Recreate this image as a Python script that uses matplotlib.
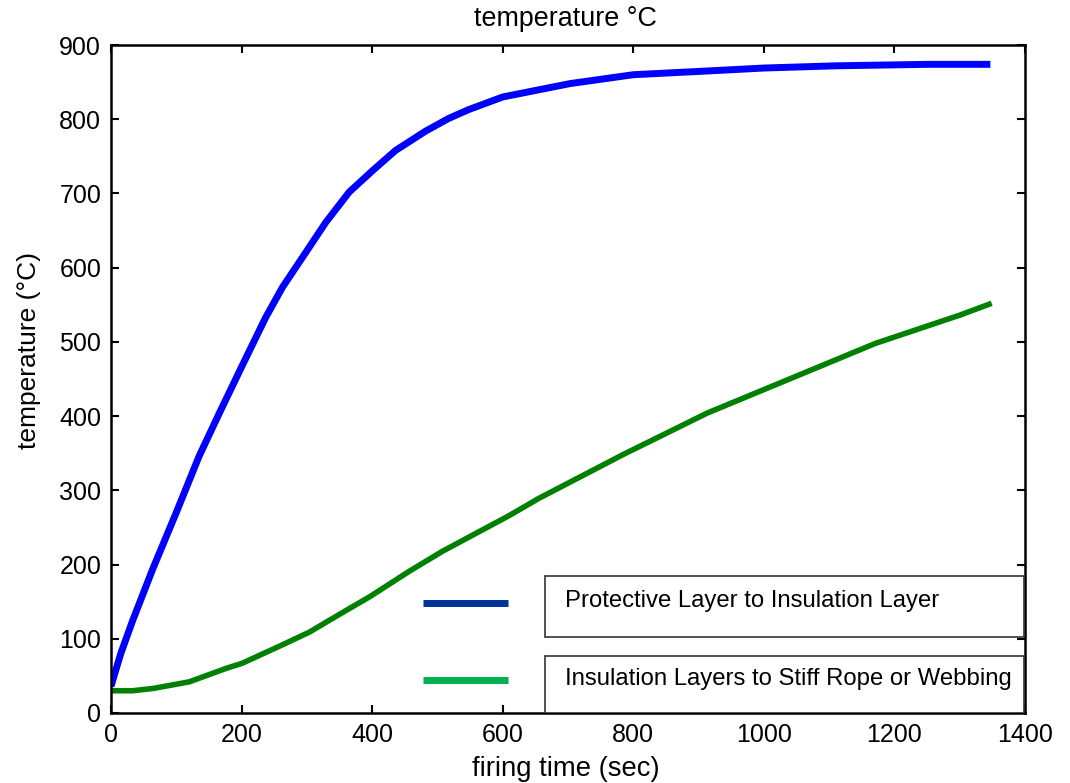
import matplotlib
matplotlib.use('Agg')
import matplotlib.pyplot as plt
from matplotlib.patches import Rectangle
from matplotlib.lines import Line2D

plt.rcParams['font.family'] = ['Liberation Sans', 'DejaVu Sans']

# firing time (sec) vs temperature (C)
blue_t = [0, 15, 33, 64, 100, 135, 166, 201, 237, 263, 298, 329, 365, 401, 436,
          482, 517, 548, 600, 703, 800, 913, 1000, 1111, 1252, 1347]
blue_T = [36, 80, 124, 194, 270, 346, 404, 468, 533, 574, 620, 661, 702, 731, 758,
          784, 801, 813, 830, 848, 860, 865, 869, 872, 874, 874]

green_t = [0, 33, 64, 120, 176, 201, 263, 304, 354, 397, 457, 508, 559, 610, 655,
           784, 913, 1042, 1171, 1300, 1349]
green_T = [30, 30, 33, 42, 60, 67, 92, 109, 135, 157, 191, 218, 242, 266, 289,
           348, 404, 451, 498, 536, 552]

labels = ['Protective Layer to Insulation Layer',
          'Insulation Layers to Stiff Rope or Webbing']
x_ticks = [0, 200, 400, 600, 800, 1000, 1200, 1400]
y_ticks = [0, 100, 200, 300, 400, 500, 600, 700, 800, 900]

fig = plt.figure(figsize=(10.7, 7.83), dpi=100)
ax = fig.add_axes([0.1037, 0.0894, 0.8542, 0.8531])

ax.plot(blue_t, blue_T, color='#0000ff', linewidth=5, solid_capstyle='butt')
ax.plot(green_t, green_T, color='#008000', linewidth=4, solid_capstyle='butt')

ax.set_xlim(0, 1400)
ax.set_ylim(0, 900)
ax.set_xticks(x_ticks)
ax.set_yticks(y_ticks)
ax.tick_params(direction='in', length=6, width=1.5, top=True, right=True,
               labelsize=18, pad=7, colors='black')
for s in ax.spines.values():
    s.set_linewidth(1.8)

# legend drawn as two separate boxes with the line samples to their left
box_y = [(0.1138, 0.0913), (0.0, 0.0853)]
sample_y = [0.1647, 0.0494]
sample_c = ['#003399', '#00b050']
text_y = [0.1677, 0.0509]
for i in range(2):
    ax.add_patch(Rectangle((0.4748, box_y[i][0]), 0.5241, box_y[i][1],
                           transform=ax.transAxes, facecolor='white',
                           edgecolor='#333333', linewidth=1.2, zorder=5))
    ax.add_line(Line2D([0.3414, 0.4344], [sample_y[i], sample_y[i]],
                       transform=ax.transAxes, color=sample_c[i], linewidth=5,
                       solid_capstyle='butt', zorder=5))
    ax.text(0.4967, text_y[i], labels[i], transform=ax.transAxes, fontsize=17.2,
            va='center', ha='left', zorder=6)

fig.text(0.528, 0.976, 'temperature °C', ha='center', va='center', fontsize=19.4)
fig.text(0.5285, 0.018, 'firing time (sec)', ha='center', va='center', fontsize=19.8)
fig.text(0.027, 0.553, 'temperature (°C)', ha='center', va='center',
         rotation=90, fontsize=19)

fig.savefig('out.png', dpi=100)
